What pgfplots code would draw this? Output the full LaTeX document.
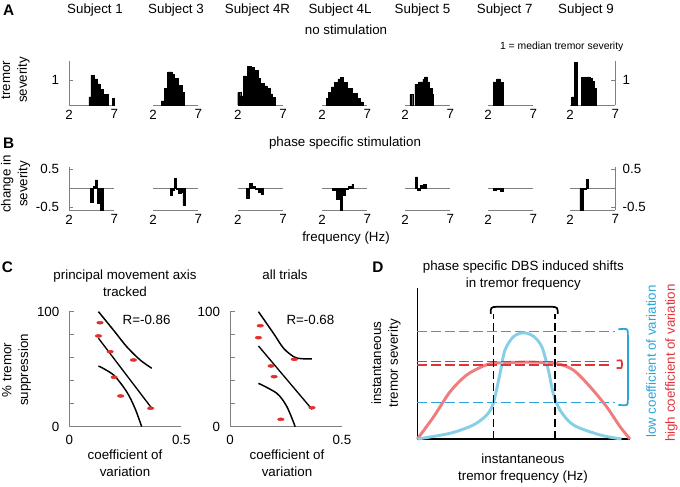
\documentclass[border=0pt]{standalone}
\usepackage{pgfplots}
\pgfplotsset{compat=1.18}
\usepackage{fontspec}
\setmainfont{Liberation Sans}
\definecolor{axgray}{HTML}{808080}
\definecolor{ptred}{HTML}{E0312F}
\definecolor{cvred}{HTML}{EE7D7F}
\definecolor{cvblue}{HTML}{86CFE6}
\definecolor{dblue}{HTML}{2BA3DA}
\definecolor{dred}{HTML}{E0343A}
\newcommand{\fs}{\fontsize{10}{12.5}\selectfont}
\pgfplotsset{
  base/.style={scale only axis, clip=false,
    /pgf/number format/assume math mode=true,
    tick label style={font=\fs},
    axis line style={axgray, line width=0.7pt, -},
    tick style={axgray, line width=0.6pt},
    tick align=inside},
  panA/.style={base, width=34pt, height=33pt, xmin=2, xmax=7, ymin=0, ymax=1.76,
    axis x line*=bottom, xtick={2,7}, xticklabels={2,7}, ytick={1}, yticklabels={1},
    major tick length=3pt, xtick style={draw=none}},
  panB/.style={base, width=34pt, height=32pt, xmin=2, xmax=7, ymin=-0.571, ymax=0.553,
    axis x line*=bottom, xtick={2,7}, xticklabels={2,7}, ytick={-0.5,0.5}, yticklabels={-0.5,0.5},
    major tick length=3pt, xtick style={draw=none}},
  panC/.style={base, width=84pt, height=86.25pt, xmin=0, xmax=0.5, ymin=0, ymax=100,
    axis x line*=bottom, axis y line*=left, xtick={0,0.5}, xticklabels={0,0.5},
    ytick={0,20,40,60,80,100}, yticklabels={0,,,,,100}, major tick length=3.5pt,
    xtick style={draw=none}, xticklabel style={yshift=-3pt}, yticklabel style={xshift=-4pt}},
  leftY/.style={axis y line*=left, yticklabel style={xshift=-4pt}},
  rightY/.style={axis y line*=right, yticklabel style={xshift=2pt}},
  midY/.style={hide y axis},
  hbar/.style={const plot, fill=black, draw=black, line width=0.3pt},
  dbar/.style={const plot, fill=black, draw=black, line width=0.6pt},
  zline/.style={axgray, line width=0.6pt},
  bdash/.style={color=dblue, dash pattern=on 7pt off 3.5pt, line width=0.9pt},
  rdash/.style={color=dred, dash pattern=on 7pt off 3.5pt, line width=0.9pt},
  kdash/.style={color=black, dash pattern=on 6pt off 3pt, line width=0.9pt},
}
\begin{document}
\begin{tikzpicture}
% ---------------- Panel A ----------------
\begin{axis}[panA, leftY, at={(51.75pt,-78.75pt)}, anchor=south west]
\addplot[hbar] coordinates {(4.2,0.33)(4.4,1.2)(4.8,1.05)(5.1,0.85)(5.4,0.62)(5.75,0.42)(6.3,0.42)} \closedcycle;
\addplot[hbar] coordinates {(6.75,0.27)(7.0,0.27)} \closedcycle;
\end{axis}
\begin{axis}[panA, midY, at={(114.75pt,-78.75pt)}, anchor=south west]
\addplot[hbar] coordinates {(2.9,0.17)(3.22,0.67)(3.52,0.67)} \closedcycle;
\addplot[hbar] coordinates {(3.6,1.33)(4.08,1.22)(4.33,1.08)(4.81,0.8)(5.19,0.5)(5.45,0.5)} \closedcycle;
\end{axis}
\begin{axis}[panA, midY, at={(178.3pt,-78.75pt)}, anchor=south west]
\addplot[hbar] coordinates {(2.0,0.5)(2.33,0.37)(2.63,1.17)(2.95,1.17)} \closedcycle;
\addplot[hbar] coordinates {(3.05,1.55)(3.48,1.5)(3.85,1.4)(4.22,1.07)(4.48,0.87)(4.96,0.77)(5.22,0.67)(5.59,0.45)(5.85,0.3)(6.1,0.3)} \closedcycle;
\end{axis}
\begin{axis}[panA, midY, at={(241.5pt,-78.75pt)}, anchor=south west]
\addplot[hbar] coordinates {(2.45,0.27)(2.7,0.5)(3.0,0.73)(3.37,0.9)(3.74,1.05)(4.0,1.12)(4.33,0.9)(4.74,0.68)(5.3,0.48)(5.85,0.28)(6.22,0.13)(6.52,0.13)} \closedcycle;
\end{axis}
\begin{axis}[panA, midY, at={(303.75pt,-78.75pt)}, anchor=south west]
\addplot[hbar] coordinates {(2.55,0.42)(2.85,0.42)} \closedcycle;
\addplot[hbar] coordinates {(3.1,0.83)(3.48,0.93)(3.97,1.04)(4.15,1.13)(4.41,0.93)(4.7,0.67)(4.96,0.43)(5.15,0.43)} \closedcycle;
\end{axis}
\begin{axis}[panA, midY, at={(366pt,-78.75pt)}, anchor=south west]
\addplot[hbar] coordinates {(2.6,0.93)(2.95,1.05)(3.3,0.9)(3.7,0.9)} \closedcycle;
\end{axis}
\begin{axis}[panA, rightY, at={(427.5pt,-78.75pt)}, anchor=south west]
\addplot[hbar] coordinates {(2.15,0.33)(2.45,1.7)(2.75,1.7)} \closedcycle;
\addplot[hbar] coordinates {(3.25,1.12)(3.85,1.13)(4.2,1.07)(4.45,0.95)(4.65,0.67)(4.9,0.67)} \closedcycle;
\end{axis}
% ---------------- Panel B ----------------
\begin{axis}[panB, leftY, at={(51.75pt,-157.5pt)}, anchor=south west]
\addplot[zline] coordinates {(2,0)(7,0)};
\addplot[dbar] coordinates {(4.41,-0.37)(4.7,0.04)(4.89,0.22)(5.15,-0.4)(5.44,-0.57)(5.74,0)} \closedcycle;
\end{axis}
\begin{axis}[panB, midY, at={(114.75pt,-157.5pt)}, anchor=south west]
\addplot[zline] coordinates {(2,0)(7,0)};
\addplot[dbar] coordinates {(3.89,-0.18)(4.15,-0.05)(4.4,0.25)(4.6,-0.03)(4.81,-0.14)(5.1,-0.1)(5.3,-0.45)(5.56,0)} \closedcycle;
\end{axis}
\begin{axis}[panB, midY, at={(178.3pt,-157.5pt)}, anchor=south west]
\addplot[zline] coordinates {(2,0)(7,0)};
\addplot[dbar] coordinates {(3.0,-0.26)(3.29,0.13)(3.67,0.06)(3.92,-0.03)(4.3,-0.11)(4.56,-0.16)(4.85,0)} \closedcycle;
\end{axis}
\begin{axis}[panB, midY, at={(241.5pt,-157.5pt)}, anchor=south west]
\addplot[zline] coordinates {(2,0)(7,0)};
\addplot[dbar] coordinates {(3.2,-0.05)(3.6,-0.3)(4.0,-0.57)(4.3,-0.18)(4.56,-0.04)(4.93,0.06)(5.3,0.11)(5.48,0)} \closedcycle;
\end{axis}
\begin{axis}[panB, midY, at={(303.75pt,-157.5pt)}, anchor=south west]
\addplot[zline] coordinates {(2,0)(7,0)};
\addplot[dbar] coordinates {(3.19,0.3)(3.37,-0.05)(3.67,0.07)(4.04,0.11)(4.41,0)} \closedcycle;
\end{axis}
\begin{axis}[panB, midY, at={(366pt,-157.5pt)}, anchor=south west]
\addplot[zline] coordinates {(2,0)(7,0)};
\addplot[dbar] coordinates {(2.59,-0.05)(2.97,-0.02)(3.33,-0.09)(3.7,0)} \closedcycle;
\end{axis}
\begin{axis}[panB, rightY, at={(427.5pt,-157.5pt)}, anchor=south west]
\addplot[zline] coordinates {(2,0)(7,0)};
\addplot[dbar] coordinates {(3.1,-0.57)(3.46,-0.04)(3.83,0.24)(4.08,0)} \closedcycle;
\end{axis}
% ---------------- Panel C ----------------
\begin{axis}[panC, at={(52pt,-320pt)}, anchor=south west]
\addplot[black, line width=1.1pt, smooth] coordinates {(0.13,100)(0.197,84)(0.256,69.6)(0.316,58)(0.368,50.8)};
\addplot[black, line width=1pt] coordinates {(0.13,76.9)(0.368,16)};
\addplot[black, line width=1.1pt, smooth] coordinates {(0.13,52.8)(0.197,45)(0.256,30.4)(0.293,16)(0.323,0)};
\addplot[only marks, mark=*, mark size=1.1pt, color=ptred, mark options={xscale=2.2, fill=ptred}] coordinates {(0.137,90.4)(0.13,78.9)(0.182,65.2)(0.286,58)(0.2,43)(0.229,26.7)(0.363,16)};
\node[font=\fs] at (axis cs:0.345,93) {R=-0.86};
\end{axis}
\begin{axis}[panC, at={(172.5pt,-320pt)}, anchor=south west]
\addplot[black, line width=1.1pt, smooth] coordinates {(0.127,100)(0.194,81.2)(0.239,68.2)(0.284,60.9)(0.314,59.2)(0.366,58.9)};
\addplot[black, line width=1pt] coordinates {(0.127,70.2)(0.366,15.1)};
\addplot[black, line width=1.1pt, smooth] coordinates {(0.127,37.7)(0.209,29)(0.254,17.4)(0.291,0)};
\addplot[only marks, mark=*, mark size=1.1pt, color=ptred, mark options={xscale=2.2, fill=ptred}] coordinates {(0.135,87.8)(0.127,77.4)(0.183,52.8)(0.197,43.5)(0.227,6.4)(0.287,58.6)(0.366,16.5)};
\node[font=\fs] at (axis cs:0.359,93) {R=-0.68};
\end{axis}
% ---------------- Panel D ----------------
\begin{axis}[base, width=159.5pt, height=113pt, xmin=0, xmax=1, ymin=0, ymax=1,
  axis x line*=bottom, axis y line*=left, axis line style={black, line width=0.8pt, -},
  xtick=\empty, ytick=\empty, at={(313pt,-329.25pt)}, anchor=south west]
\addplot[bdash] coordinates {(0,0.712)(0.93,0.712)};
\addplot[bdash] coordinates {(0,0.241)(0.93,0.241)};
\addplot[cvred, line width=2.2pt, smooth] coordinates {(0,0)(0.0768,0.148)(0.154,0.314)(0.232,0.425)(0.31,0.484)(0.36,0.503)(0.5,0.51)(0.647,0.503)(0.733,0.458)(0.812,0.347)(0.89,0.214)(0.953,0.082)(1,0)};
\addplot[cvblue, line width=2.2pt, smooth] coordinates {(0,0)(0.154,0.038)(0.263,0.093)(0.326,0.159)(0.357,0.237)(0.389,0.436)(0.412,0.59)(0.452,0.679)(0.498,0.705)(0.545,0.683)(0.585,0.613)(0.616,0.458)(0.639,0.303)(0.671,0.192)(0.734,0.093)(0.859,0.027)(0.96,0)};
\addplot[rdash] coordinates {(0,0.513)(0.9,0.513)};
\addplot[rdash] coordinates {(0,0.491)(0.9,0.491)};
\addplot[kdash] coordinates {(0.357,0)(0.357,0.83)};
\addplot[kdash] coordinates {(0.647,0)(0.647,0.83)};
\draw[black, line width=1.3pt] (axis cs:0.345,0.83) .. controls (axis cs:0.345,0.875) .. (axis cs:0.375,0.878) -- (axis cs:0.628,0.878) .. controls (axis cs:0.66,0.875) .. (axis cs:0.66,0.83);
\draw[dblue, line width=1.3pt] (axis cs:0.945,0.728) .. controls (axis cs:0.99,0.735) .. (axis cs:0.99,0.69) -- (axis cs:0.99,0.26) .. controls (axis cs:0.99,0.22) .. (axis cs:0.945,0.227);
\draw[dred, line width=1.3pt] (axis cs:0.937,0.52) .. controls (axis cs:0.962,0.525) .. (axis cs:0.962,0.497) .. controls (axis cs:0.962,0.468) .. (axis cs:0.937,0.472);
\end{axis}
% ---------------- Texts ----------------
\begin{scope}[x=0.75pt, y=-0.75pt]
\node[font=\bfseries\fontsize{11.5}{13}\selectfont] at (8.7,10.5) {A};
\node[font=\bfseries\fontsize{11.5}{13}\selectfont] at (8.7,143) {B};
\node[font=\bfseries\fontsize{11.5}{13}\selectfont] at (7.5,267) {C};
\node[font=\bfseries\fontsize{11.5}{13}\selectfont] at (378,267) {D};
\node[font=\fs] at (95,10) {Subject 1};
\node[font=\fs] at (176,10) {Subject 3};
\node[font=\fs] at (257.5,10) {Subject 4R};
\node[font=\fs] at (340,10) {Subject 4L};
\node[font=\fs] at (422.5,10) {Subject 5};
\node[font=\fs] at (504.7,10) {Subject 7};
\node[font=\fs] at (586,10) {Subject 9};
\node[font=\fs] at (346,30) {no stimulation};
\node[font=\fontsize{7.8}{9}\selectfont] at (561.7,47.3) {1 = median tremor severity};
\node[font=\fs, rotate=90, align=center] at (15.5,80) {tremor\\severity};
\node[font=\fs] at (345,143) {phase specific stimulation};
\node[font=\fs, rotate=90, align=center] at (15.5,184) {change in\\severity};
\node[font=\fs] at (346,238) {frequency (Hz)};
\node[font=\fs, align=center] at (125,283.5) {principal movement axis\\tracked};
\node[font=\fs] at (285,275) {all trials};
\node[font=\fs, rotate=90, align=center] at (16.5,370) {\% tremor\\suppression};
\node[font=\fs, align=center] at (125,463.5) {coefficient of\\variation};
\node[font=\fs, align=center] at (287,463.5) {coefficient of\\variation};
\node[font=\fs, align=center] at (523.3,275.5) {phase specific DBS induced shifts\\in tremor frequency};
\node[font=\fs, rotate=90, align=center] at (386,363.3) {instantaneous\\tremor severity};
\node[font=\fs, align=center] at (523,468.3) {instantaneous\\tremor frequency (Hz)};
\node[font=\fs, rotate=90, text=dblue] at (651,361.5) {low coefficient of variation};
\node[font=\fs, rotate=90, text=dred] at (671.5,363) {high coefficient of variation};
\end{scope}
\pgfresetboundingbox
\path[use as bounding box] (0,0) rectangle (510pt,-364.5pt);
\end{tikzpicture}
\end{document}
